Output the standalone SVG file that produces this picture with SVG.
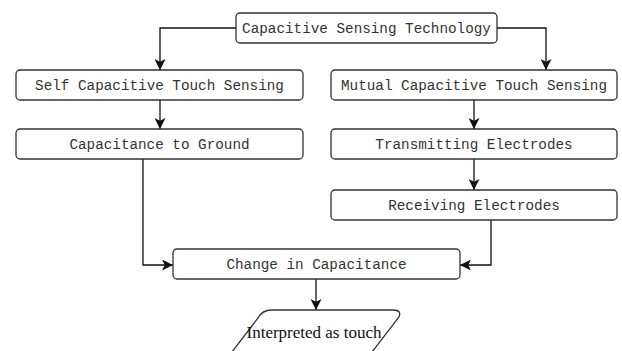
<svg xmlns="http://www.w3.org/2000/svg" width="622" height="351" viewBox="0 0 622 351">
<style>
.box{fill:#fff;stroke:#333;stroke-width:1.3}
.lbl{font-family:"Liberation Mono","DejaVu Sans Mono",monospace;font-size:14.3px;fill:#333;text-anchor:middle}
.ser{font-family:"Liberation Serif","Times New Roman",serif;font-size:17px;fill:#111;text-anchor:middle}
.con{fill:none;stroke:#111;stroke-width:1.3}
</style>
<defs>
<marker id="ah" viewBox="0 0 10 10" refX="10" refY="5" markerWidth="11" markerHeight="11" markerUnits="userSpaceOnUse" orient="auto">
<path d="M0 0 L10 5 L0 10 L2.5 5 Z" fill="#111"/>
</marker>
</defs>
<rect width="622" height="351" fill="#fff"/>
<g id="connectors">
<path class="con" d="M236 28 H160 V70" marker-end="url(#ah)"/>
<path class="con" d="M497 28 H546 V70" marker-end="url(#ah)"/>
<path class="con" d="M160 100 V129" marker-end="url(#ah)"/>
<path class="con" d="M474 100 V129" marker-end="url(#ah)"/>
<path class="con" d="M474 159 V190" marker-end="url(#ah)"/>
<path class="con" d="M143 159 V265 H173" marker-end="url(#ah)"/>
<path class="con" d="M491 220 V265 H460" marker-end="url(#ah)"/>
<path class="con" d="M316 279 V310" marker-end="url(#ah)"/>
</g>
<g id="n-tech">
<rect class="box" x="236" y="13" width="261" height="30" rx="4"/>
<text class="lbl" x="366.5" y="33">Capacitive Sensing Technology</text>
</g>
<g id="n-self">
<rect class="box" x="16" y="70" width="287" height="30" rx="4"/>
<text class="lbl" x="159.5" y="90">Self Capacitive Touch Sensing</text>
</g>
<g id="n-ground">
<rect class="box" x="16" y="129" width="287" height="30" rx="4"/>
<text class="lbl" x="159.5" y="149">Capacitance to Ground</text>
</g>
<g id="n-mutual">
<rect class="box" x="331" y="70" width="286" height="30" rx="4"/>
<text class="lbl" x="474" y="90">Mutual Capacitive Touch Sensing</text>
</g>
<g id="n-trans">
<rect class="box" x="331" y="129" width="286" height="30" rx="4"/>
<text class="lbl" x="474" y="149">Transmitting Electrodes</text>
</g>
<g id="n-recv">
<rect class="box" x="331" y="190" width="286" height="30" rx="4"/>
<text class="lbl" x="474" y="210">Receiving Electrodes</text>
</g>
<g id="n-change">
<rect class="box" x="173" y="249" width="287" height="30" rx="4"/>
<text class="lbl" x="316.5" y="269">Change in Capacitance</text>
</g>
<g id="n-touch">
<path class="box" d="M272 310 L393 310 Q402 310 399 317 L362 365 L222 365 L258 318 Q262 310 272 310 Z"/>
<text class="ser" x="314" y="338">Interpreted as touch</text>
</g>
</svg>
